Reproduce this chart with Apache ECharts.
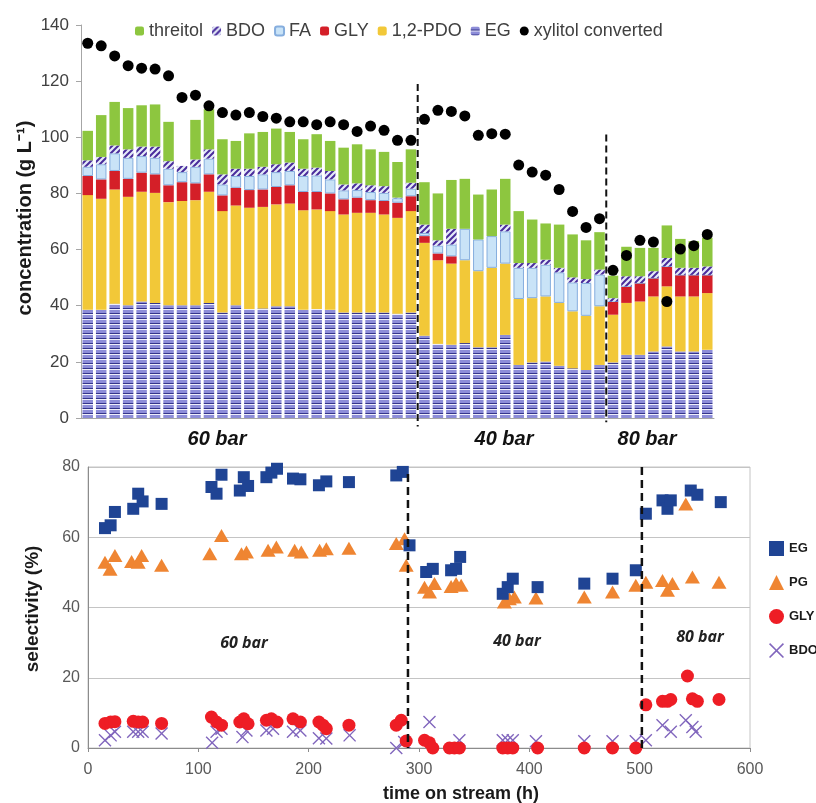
<!DOCTYPE html>
<html>
<head>
<meta charset="utf-8">
<script src="https://cdn.jsdelivr.net/npm/echarts@6/dist/echarts.min.js"></script>
<style>
html,body{margin:0;padding:0;background:#fff;}
#chart{width:816px;height:803px;}
</style>
</head>
<body>
<div id="chart"></div>
<script>
// ---------- top panel: concentrations (g/L) per sample ----------
const samples = ['1','2','3','4','5','6','7','8','9','10','11','12','13','14','15','16','17','18','19','20','21','22','23','24','25',
  '26','27','28','29','30','31','32','33','34','35','36','37','38','39',
  '40','41','42','43','44','45','46','47'];
const egConc = [38.6,38.6,40.7,40.2,41.5,41.0,40.2,40.2,40.2,41.0,37.6,40.2,38.8,39.0,39.8,39.8,38.6,38.8,38.6,37.6,37.6,37.6,37.6,37.1,37.6,
  29.3,26.4,26.1,26.7,25.2,25.2,29.6,18.9,19.8,20.1,18.6,17.7,17.1,18.9,
  19.8,22.5,22.5,23.7,25.5,23.7,23.7,24.3];
const pdoConc = [40.8,39.5,40.7,38.6,39.1,39.2,36.7,37.1,37.4,39.6,36.1,35.5,36.1,36.2,36.3,36.6,35.4,35.5,35.1,34.9,35.5,35.5,34.9,34.2,36.1,
  33.1,29.8,28.9,29.5,27.1,28.3,25.4,23.5,22.9,23.2,22.4,20.3,19.3,20.9,
  17.0,18.5,19.0,19.6,21.4,19.6,19.6,20.2];
const glyConc = [6.8,6.9,6.6,6.4,6.8,6.6,6.0,6.7,6.0,6.2,5.6,6.3,6.3,6.2,6.2,6.5,6.5,6.2,6.3,5.4,5.4,4.5,4.8,5.4,5.3,
  2.4,2.4,2.6,0,0,0,0,0,0,0,0,0,0,0,
  4.7,5.9,6.6,6.6,7.1,7.7,7.7,6.5];
const faConc = [3.3,5.4,6.3,7.5,5.9,5.9,5.9,3.6,5.9,5.6,3.9,4.2,5.0,5.4,5.3,5.1,5.7,5.9,5.0,3.2,2.7,2.9,2.9,1.6,2.7,
  1.1,2.8,4.2,11.2,11.3,11.3,11.5,11.1,10.8,11.3,10.9,10.3,11.7,11.3,
  0,0,0,0,0,0,0,0];
const bdoConc = [2.3,2.6,2.8,3.0,3.4,4.0,2.7,2.2,2.6,3.3,3.6,2.6,2.6,2.7,2.8,3.0,2.6,2.8,3.0,2.1,2.4,2.4,2.4,0.2,2.1,
  3.0,1.9,5.6,0,0,0,2.4,1.7,1.7,1.8,1.6,1.8,1.4,1.8,
  1.2,3.6,2.4,2.4,3.0,2.5,2.5,3.0];
const threitolConc = [10.5,14.9,15.5,14.7,14.7,15.0,14.0,0,14.1,14.3,12.5,9.9,12.6,12.4,12.7,10.9,10.5,11.9,10.7,13.1,13.9,12.8,12.2,12.7,11.9,
  15.1,16.7,17.4,17.8,16.0,16.6,16.3,18.5,15.5,12.9,15.4,15.3,13.8,13.3,
  8.0,10.5,10.1,8.3,11.6,10.3,9.5,10.2];
const xylitolConverted = [133.5,132.6,129.0,125.5,124.6,124.3,121.9,114.2,115.0,111.2,108.8,107.9,108.8,107.4,106.8,105.5,105.5,104.5,105.5,104.5,102.1,104.0,102.5,98.9,98.9,
  106.4,109.6,109.2,107.6,100.7,101.3,101.1,90.1,87.6,86.5,81.4,73.6,67.9,71.0,
  52.6,57.9,63.3,62.7,41.5,60.2,61.4,65.4];
// pressure changes (boundary after sample 25 and 39), and dashed line tops
const topDividerPos = [25, 39];
const topDividerTop = [119, 101];

// ---------- bottom panel: selectivity (%) vs time on stream (h) ----------
const egSel = [[15.4,62.6],[20.5,63.4],[24.4,67.2],[41,68.1],[45.5,72.4],[49.5,70.2],[66.7,69.5],
  [111.9,74.3],[116.5,72.4],[121,77.8],[137.6,73.3],[141.2,77.1],[145.1,74.6],[161.7,77.1],[166.2,78.4],[171.3,79.5],[185.8,76.7],[192.5,76.5],[209.3,74.8],[216,75.9],[236.5,75.7],[279.4,77.6],[285.3,78.6],
  [291.4,57.7],[306.5,50.1],[312.5,51],[329.1,50.6],[333.6,51],[337.3,54.4],[375.9,43.9],[380.4,45.8],[385,48.2],[407.5,45.8],[449.8,46.8],[475.4,48.2],[496.5,50.6],
  [505.6,66.7],[520.7,70.5],[525.2,68.1],[528.2,70.5],[546.3,73.3],[552.3,72.1],[573.5,70]];
const pgSel = [[15.4,52.9],[20,50.9],[24.4,54.8],[39.5,53.1],[45.5,52.9],[48.6,54.8],[66.7,52],
  [110.4,55.3],[121,60.5],[139.1,55.3],[143.6,55.8],[163.2,56.3],[170.7,57.2],[187.3,56.3],[193.3,55.8],[209.9,56.3],[216,56.7],[236.5,56.9],[279.4,58.2],[286.9,59.6],[288.4,52],
  [305,45.8],[309.5,44.4],[314,46.8],[329.1,46],[333.6,46.8],[338.2,46.3],[377.4,41.6],[381.9,42.5],[386.4,43],[406,42.7],[449.8,43],[475.4,44.4],[496.5,46.3],
  [505.6,47.2],[520.7,47.7],[525.2,44.9],[529.7,46.8],[541.8,69.5],[547.8,48.7],[571.9,47.2]];
const glySel = [[15.4,7],[20.5,7.4],[24.4,7.5],[41,7.6],[45.5,7.4],[49.5,7.4],[66.7,7],
  [111.9,8.8],[116.5,7.4],[121,6.5],[137.6,7.4],[141.2,8.3],[145.1,6.9],[161.7,7.9],[166.2,8.3],[171.3,7.4],[185.8,8.3],[192.5,7.4],[209.3,7.4],[213,6.5],[216,5.5],[236.5,6.5],[279.4,6.5],[283.9,7.9],[288.4,2],
  [305,2.2],[309.5,1.5],[312.5,0],[327.6,0],[332.1,0],[336.6,0],[375.9,0],[380.4,0],[385,0],[407.5,0],[449.8,0],[475.4,0],[496.5,0],
  [505.6,12.3],[520.7,13.3],[525.2,13.3],[528.2,13.8],[543.3,20.5],[547.8,14],[552.3,13.3],[571.9,13.8]];
const bdoSel = [[15.4,2.2],[20.5,3.6],[24.4,4.6],[41,4.6],[45.5,4.6],[49.5,4.6],[66.7,4.1],
  [112.5,1.5],[116.5,4.6],[121,5.5],[140,3.1],[143.6,5],[161.7,5],[167.7,5.5],[185.8,4.6],[192.5,5],[209.3,2.8],[216,2.7],[237.1,3.6],[279.4,0],[286.6,1.7],
  [309.5,7.4],[336.6,2.2],[375.9,2.2],[380.4,2.2],[385,2.2],[406,1.9],[449.8,1.9],[475.4,1.9],[496.5,1.9],[505.6,2.2],
  [520.7,6.5],[528.2,4.6],[541.8,7.9],[547.8,6],[550.8,4.6]];
const bottomDividerPos = [290, 502];
const bottomDividerTop = [78, 80];

// ---------- patterns ----------
function stripePattern() {
  const c = document.createElement('canvas'); c.width = 4; c.height = 5;
  const g = c.getContext('2d');
  g.fillStyle = '#8d8dd8'; g.fillRect(0, 0, 4, 5);
  g.fillStyle = '#34348c'; g.fillRect(0, 3, 4, 1);
  g.fillStyle = '#eeeefa'; g.fillRect(0, 4, 4, 1);
  return c;
}
function hatchPattern() {
  const c = document.createElement('canvas'); c.width = 6; c.height = 6;
  const g = c.getContext('2d');
  g.fillStyle = '#e4ebf8'; g.fillRect(0, 0, 6, 6);
  g.strokeStyle = '#4a2c9c'; g.lineWidth = 2;
  g.beginPath();
  g.moveTo(-1, 7); g.lineTo(7, -1);
  g.moveTo(-4, 4); g.lineTo(4, -4);
  g.moveTo(2, 10); g.lineTo(10, 2);
  g.stroke();
  return c;
}
const egFill = { image: stripePattern(), repeat: 'repeat' };
const bdoFill = { image: hatchPattern(), repeat: 'repeat' };
const xSymbol = 'path://M0,1.5L1.5,0L10,8.5L18.5,0L20,1.5L11.5,10L20,18.5L18.5,20L10,11.5L1.5,20L0,18.5L8.5,10Z';

const chart = echarts.init(document.getElementById('chart'), null, { renderer: 'canvas' });
const font = 'Liberation Sans';

function barSeries(name, data, style) {
  return { name, type: 'bar', stack: 'conc', xAxisIndex: 0, yAxisIndex: 0, data,
    barCategoryGap: '22%', itemStyle: style, emphasis: { disabled: true } };
}
function dividerLine(xIdx, yIdx, x, top, bottom, width, dash) {
  return { type: 'line', xAxisIndex: xIdx, yAxisIndex: yIdx, data: [[x, top], [x, bottom]],
    symbol: 'none', clip: false, silent: true, z: 5,
    lineStyle: { color: '#111', width: width, type: dash } };
}

const option = {
  animation: false,
  textStyle: { fontFamily: font },
  legend: [
    { top: 17, left: 130, itemWidth: 9, itemHeight: 9, itemGap: 9,
      textStyle: { fontSize: 18, color: '#404040', fontFamily: font },
      data: ['threitol', 'BDO', 'FA', 'GLY', '1,2-PDO', 'EG', { name: 'xylitol converted', icon: 'circle' }] },
    { orient: 'vertical', left: 764, top: 536, itemWidth: 15, itemHeight: 15, itemGap: 19,
      formatter: n => n.trim(),
      textStyle: { fontSize: 13, fontWeight: 'bold', color: '#1a1a1a', fontFamily: font },
      data: [{ name: 'EG ', icon: 'rect' }, { name: 'PG', icon: 'triangle' },
             { name: 'GLY ', icon: 'circle' }, { name: 'BDO ', icon: xSymbol }] }
  ],
  grid: [
    { left: 81, right: 102, top: 25, bottom: 385 },
    { left: 88, right: 66, top: 467, bottom: 55, show: true, borderColor: '#c4c4c4', borderWidth: 1 }
  ],
  xAxis: [
    { type: 'category', gridIndex: 0, data: samples,
      axisLine: { lineStyle: { color: '#a6a6a6' } }, axisTick: { show: false }, axisLabel: { show: false } },
    { type: 'value', gridIndex: 0, min: 0, max: samples.length, show: false },
    { type: 'value', gridIndex: 1, min: 0, max: 600, interval: 100,
      axisLine: { lineStyle: { color: '#8c8c8c' } }, axisTick: { show: true, length: 4, lineStyle: { color: '#8c8c8c' } },
      axisLabel: { fontSize: 16, color: '#595959', margin: 14 }, splitLine: { show: false } }
  ],
  yAxis: [
    { type: 'value', gridIndex: 0, min: 0, max: 140, interval: 20,
      axisLine: { show: true, lineStyle: { color: '#a6a6a6' } }, axisTick: { show: true, length: 5, lineStyle: { color: '#a6a6a6' } },
      axisLabel: { fontSize: 17, color: '#404040', margin: 12 }, splitLine: { show: false } },
    { type: 'value', gridIndex: 1, min: 0, max: 80, interval: 20,
      axisLine: { show: true, lineStyle: { color: '#8c8c8c' } }, axisTick: { show: false },
      axisLabel: { fontSize: 16, color: '#595959', margin: 8 },
      splitLine: { show: true, lineStyle: { color: '#c4c4c4' } } }
  ],
  graphic: [
    { type: 'text', x: 25, y: 218, rotation: Math.PI / 2,
      style: { text: 'concentration (g L⁻¹)', font: 'bold 20px ' + font, fill: '#1a1a1a', align: 'center', verticalAlign: 'middle' } },
    { type: 'text', x: 217, y: 439, style: { text: '60 bar', font: 'italic bold 20px ' + font, fill: '#111', align: 'center', verticalAlign: 'middle' } },
    { type: 'text', x: 504, y: 439, style: { text: '40 bar', font: 'italic bold 20px ' + font, fill: '#111', align: 'center', verticalAlign: 'middle' } },
    { type: 'text', x: 647, y: 439, style: { text: '80 bar', font: 'italic bold 20px ' + font, fill: '#111', align: 'center', verticalAlign: 'middle' } },
    { type: 'text', x: 33, y: 609, rotation: Math.PI / 2,
      style: { text: 'selectivity (%)', font: 'bold 19px ' + font, fill: '#1a1a1a', align: 'center', verticalAlign: 'middle' } },
    { type: 'text', x: 461, y: 794, style: { text: 'time on stream (h)', font: 'bold 18px ' + font, fill: '#1a1a1a', align: 'center', verticalAlign: 'middle' } },
    { type: 'text', x: 244, y: 643, style: { text: '60 bar', font: 'italic bold 16px Open Sans', fill: '#222', align: 'center', verticalAlign: 'middle' } },
    { type: 'text', x: 517, y: 641, style: { text: '40 bar', font: 'italic bold 16px Open Sans', fill: '#222', align: 'center', verticalAlign: 'middle' } },
    { type: 'text', x: 700, y: 637, style: { text: '80 bar', font: 'italic bold 16px Open Sans', fill: '#222', align: 'center', verticalAlign: 'middle' } }
  ],
  series: [
    barSeries('EG', egConc, { color: egFill }),
    barSeries('1,2-PDO', pdoConc, { color: '#f2c838' }),
    barSeries('GLY', glyConc, { color: '#d41f28' }),
    barSeries('FA', faConc, { color: '#c9e3f7', borderColor: '#86aede', borderWidth: 1 }),
    barSeries('BDO', bdoConc, { color: bdoFill }),
    barSeries('threitol', threitolConc, { color: '#8dc63f' }),
    { name: 'xylitol converted', type: 'scatter', xAxisIndex: 0, yAxisIndex: 0, data: xylitolConverted,
      symbol: 'circle', symbolSize: 11, itemStyle: { color: '#000', opacity: 1 }, z: 4 },
    dividerLine(1, 0, topDividerPos[0], topDividerTop[0], -3, 2, [7, 4]),
    dividerLine(1, 0, topDividerPos[1], topDividerTop[1], -1.5, 2, [7, 4]),
    { name: 'BDO ', type: 'scatter', xAxisIndex: 2, yAxisIndex: 1, data: bdoSel,
      symbol: xSymbol, symbolSize: 13, itemStyle: { color: '#8166bd', opacity: 1 } },
    { name: 'GLY ', type: 'scatter', xAxisIndex: 2, yAxisIndex: 1, data: glySel,
      symbol: 'circle', symbolSize: 13, itemStyle: { color: '#ee1d25', opacity: 1 } },
    { name: 'PG', type: 'scatter', xAxisIndex: 2, yAxisIndex: 1, data: pgSel,
      symbol: 'triangle', symbolSize: [15, 13], itemStyle: { color: '#ef8532', opacity: 1 } },
    { name: 'EG ', type: 'scatter', xAxisIndex: 2, yAxisIndex: 1, data: egSel,
      symbol: 'rect', symbolSize: 12, itemStyle: { color: '#1f4494', opacity: 1 } },
    dividerLine(2, 1, bottomDividerPos[0], bottomDividerTop[0], 0, 2.5, [8, 5]),
    dividerLine(2, 1, bottomDividerPos[1], bottomDividerTop[1], 0, 2.5, [8, 5])
  ]
};
chart.setOption(option);
</script>
</body>
</html>
